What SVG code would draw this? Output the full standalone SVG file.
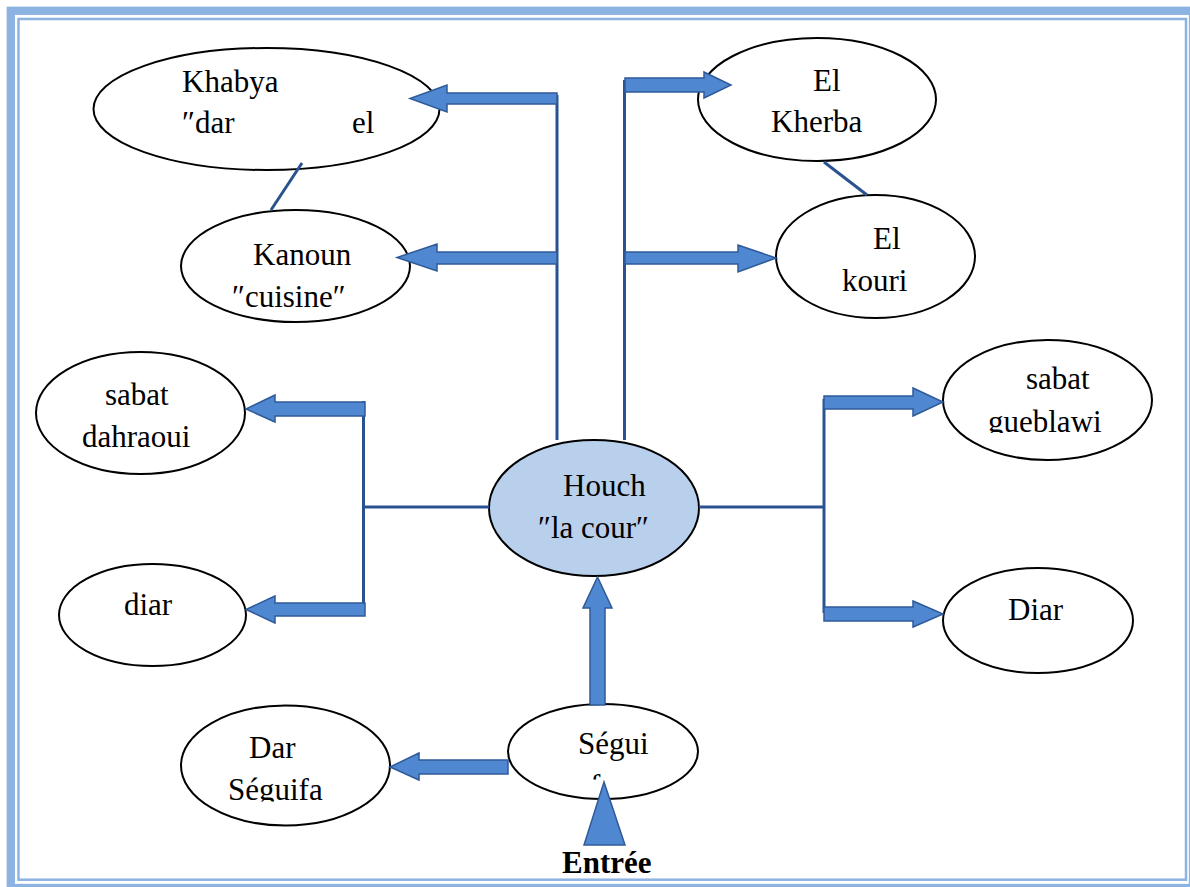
<svg xmlns="http://www.w3.org/2000/svg" width="1190" height="887" viewBox="0 0 1190 887">
  <style>
    .node { fill: #ffffff; stroke: #000000; stroke-width: 2; }
    .hub { fill: #B9D0EC; stroke: #000000; stroke-width: 2; }
    .lbl { font-family: "Liberation Serif", "Times New Roman", serif; font-size: 31px; fill: #000000; }
    .bold { font-weight: bold; }
    .link { fill: none; stroke: #2A5290; stroke-width: 3; }
    .block { fill: #4F88D0; stroke: #2F5A9A; stroke-width: 1.5; stroke-linejoin: miter; }
    .frame-outer { fill: none; stroke: #8DB3E2; stroke-width: 8.3; }
    .frame-inner { fill: none; stroke: #8DB3E2; stroke-width: 2.5; }
  </style>
  <defs>
    <clipPath id="clip-gueblawi"><rect x="940" y="340" width="220" height="93"/></clipPath>
    <clipPath id="clip-seguifa-dar"><rect x="180" y="700" width="220" height="101.5"/></clipPath>
    <clipPath id="clip-seguifa"><rect x="500" y="700" width="200" height="79.5"/></clipPath>
  </defs>

  <rect width="1190" height="887" fill="#ffffff"/>

  <!-- page frame -->
  <rect class="frame-outer" x="10.8" y="10.8" width="1182.2" height="877.2"/>
  <rect class="frame-inner" x="18.5" y="19" width="1167.5" height="860.7"/>

  <!-- nodes -->
  <g id="khabya">
    <ellipse class="node" cx="266.5" cy="109" rx="173" ry="61"/>
    <text class="lbl" x="182" y="92">Khabya</text>
    <text class="lbl" x="182" y="133">″dar</text>
    <text class="lbl" x="352" y="133">el</text>
  </g>

  <g id="kanoun">
    <ellipse class="node" cx="295.5" cy="266" rx="114.5" ry="56"/>
    <text class="lbl" x="253" y="265">Kanoun</text>
    <text class="lbl" x="232" y="307">″cuisine″</text>
  </g>

  <g id="el-kherba">
    <ellipse class="node" cx="817" cy="99.5" rx="119" ry="61.5"/>
    <text class="lbl" x="813" y="91">El</text>
    <text class="lbl" x="771" y="132">Kherba</text>
  </g>

  <g id="el-kouri">
    <ellipse class="node" cx="875.5" cy="256.5" rx="99.5" ry="61.5"/>
    <text class="lbl" x="873" y="249">El</text>
    <text class="lbl" x="842" y="291">kouri</text>
  </g>

  <g id="sabat-dahraoui">
    <ellipse class="node" cx="140.5" cy="413" rx="104.5" ry="61"/>
    <text class="lbl" x="105" y="405">sabat</text>
    <text class="lbl" x="82" y="447">dahraoui</text>
  </g>

  <g id="diar-left">
    <ellipse class="node" cx="152.5" cy="615" rx="93.5" ry="51"/>
    <text class="lbl" x="124" y="615">diar</text>
  </g>

  <g id="houch">
    <ellipse class="hub" cx="594" cy="508" rx="105" ry="68"/>
    <text class="lbl" x="563" y="496">Houch</text>
    <text class="lbl" x="538" y="538">″la cour″</text>
  </g>

  <g id="sabat-gueblawi">
    <ellipse class="node" cx="1047.5" cy="400" rx="104.5" ry="60"/>
    <text class="lbl" x="1026" y="389">sabat</text>
    <text class="lbl" x="988" y="432" clip-path="url(#clip-gueblawi)">gueblawi</text>
  </g>

  <g id="diar-right">
    <ellipse class="node" cx="1038" cy="620.5" rx="95" ry="52.5"/>
    <text class="lbl" x="1008" y="620">Diar</text>
  </g>

  <g id="dar-seguifa">
    <ellipse class="node" cx="285.5" cy="765.5" rx="104.5" ry="60"/>
    <text class="lbl" x="249" y="758">Dar</text>
    <text class="lbl" x="228" y="800" clip-path="url(#clip-seguifa-dar)">Séguifa</text>
  </g>

  <g id="seguifa">
    <ellipse class="node" cx="603" cy="751.5" rx="95" ry="47.5"/>
    <text class="lbl" x="578" y="754">Ségui</text>
    <text class="lbl" x="590" y="796" clip-path="url(#clip-seguifa)">fa</text>
  </g>

  <!-- connectors, drawn over the node outlines -->
  <g id="connectors">
    <!-- trunks -->
    <line class="link" x1="557" y1="95" x2="557" y2="440"/>
    <line class="link" x1="624.5" y1="80" x2="624.5" y2="440"/>
    <line class="link" x1="363.5" y1="401" x2="363.5" y2="609"/>
    <line class="link" x1="363.5" y1="507" x2="489" y2="507"/>
    <line class="link" x1="824" y1="399" x2="824" y2="613"/>
    <line class="link" x1="699" y1="507" x2="824" y2="507"/>
    <!-- plain links between rooms -->
    <line class="link" x1="302" y1="163" x2="271" y2="210"/>
    <line class="link" x1="824" y1="162" x2="867" y2="195"/>

    <!-- block arrows -->
    <polygon class="block" points="557,93 447,93 447,85 410,98.5 447,112 447,104 557,104"/>
    <polygon class="block" points="557,252 437,252 437,244 397,257.5 437,271 437,264 557,264"/>
    <polygon class="block" points="625,78 704,78 704,72 731,85 704,98 704,92 625,92"/>
    <polygon class="block" points="625,252 738,252 738,245 776,258 738,272 738,264 625,264"/>
    <polygon class="block" points="824,396 913,396 913,388 943,402 913,416 913,409 824,409"/>
    <polygon class="block" points="824,607 913,607 913,601 943,614 913,627 913,621 824,621"/>
    <polygon class="block" points="365,402 275,402 275,395 246,409 275,422 275,416 365,416"/>
    <polygon class="block" points="365,603 275,603 275,596 246,609.5 275,623 275,616 365,616"/>
    <polygon class="block" points="508,760 419,760 419,753 390,767 419,780 419,774 508,774"/>
    <polygon class="block" points="590,705 590,608 583,608 597.5,577 612,608 605,608 605,705"/>
  </g>

  <g id="entree">
    <polygon class="block" points="604,782 584,845 625,845"/>
    <text class="lbl bold" x="562" y="873">Entrée</text>
  </g>
</svg>
